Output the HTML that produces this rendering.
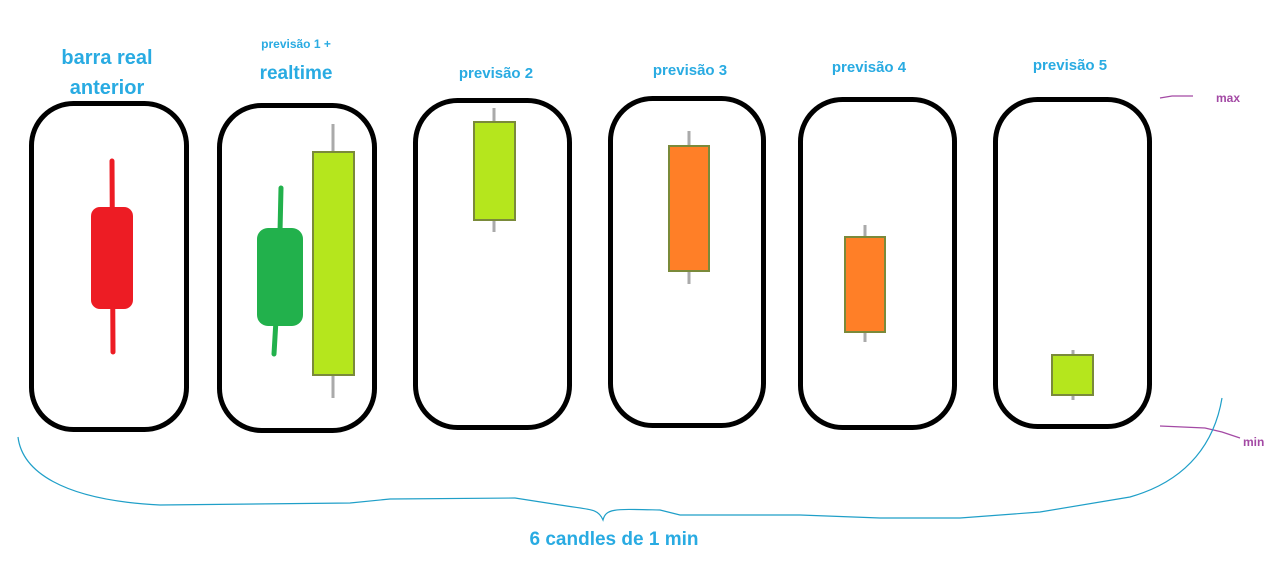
<!DOCTYPE html>
<html><head><meta charset="utf-8"><style>
html,body{margin:0;padding:0;background:#fff;width:1274px;height:578px;overflow:hidden}
svg{display:block}
text{font-family:"Liberation Sans","DejaVu Sans",sans-serif;font-weight:bold}
</style></head><body>
<svg width="1274" height="578" viewBox="0 0 1274 578">
<g fill="none" stroke="#000" stroke-width="5">
<rect x="31.5" y="103.5" width="155" height="326" rx="42"/>
<rect x="219.5" y="105.5" width="155" height="325" rx="42"/>
<rect x="415.5" y="100.5" width="154" height="327" rx="42"/>
<rect x="610.5" y="98.5" width="153" height="327" rx="42"/>
<rect x="800.5" y="99.5" width="154" height="328" rx="42"/>
<rect x="995.5" y="99.5" width="154" height="327" rx="42"/>
</g>
<!-- candle 1 -->
<line x1="112" y1="161" x2="113" y2="352" stroke="#ed1c24" stroke-width="5" stroke-linecap="round"/>
<rect x="91" y="207" width="42" height="102" rx="9" fill="#ed1c24"/>
<!-- candle 2 -->
<path d="M281 188 L280 232 M276 320 L274 354" stroke="#22b14c" stroke-width="5" stroke-linecap="round"/>
<rect x="257" y="228" width="46" height="98" rx="11" fill="#22b14c"/>
<g stroke="#aaa" stroke-width="3">
<line x1="333" y1="124" x2="333" y2="398"/>
<line x1="494" y1="108" x2="494" y2="232"/>
<line x1="689" y1="131" x2="689" y2="284"/>
<line x1="865" y1="225" x2="865" y2="342"/>
<line x1="1073" y1="350" x2="1073" y2="400"/>
</g>
<g stroke="#7a8a3a" stroke-width="2">
<rect x="313" y="152" width="41" height="223" fill="#b5e61d"/>
<rect x="474" y="122" width="41" height="98" fill="#b5e61d"/>
<rect x="669" y="146" width="40" height="125" fill="#ff7f27"/>
<rect x="845" y="237" width="40" height="95" fill="#ff7f27"/>
<rect x="1052" y="355" width="41" height="40" fill="#b5e61d"/>
</g>
<g fill="#29abe2" text-anchor="middle">
<text x="107" y="64" font-size="20">barra real</text>
<text x="107" y="94" font-size="20">anterior</text>
<text x="296" y="48" font-size="12">previsão 1 +</text>
<text x="296" y="79" font-size="19">realtime</text>
<text x="496" y="78" font-size="15">previsão 2</text>
<text x="690" y="75" font-size="15">previsão 3</text>
<text x="869" y="72" font-size="15">previsão 4</text>
<text x="1070" y="70" font-size="15">previsão 5</text>
<text x="614" y="545" font-size="19">6 candles de 1 min</text>
</g>
<g fill="#a349a4" font-size="12">
<text x="1216" y="102">max</text>
<text x="1243" y="446">min</text>
</g>
<g fill="none" stroke="#a349a4" stroke-width="1.2">
<path d="M1160 98 L1172 96 L1193 96"/>
<path d="M1160 426 L1205 428 L1222 432 L1240 438"/>
</g>
<path d="M18 437 C22 470 60 500 160 505 L350 503 L390 499 L515 498 L560 505 C590 510 598 508 603 520 C606 508 615 509 660 510 L680 515 L800 515 L880 518 L960 518 L1040 512 L1130 497 C1190 480 1215 440 1222 398" fill="none" stroke="#1f9fc8" stroke-width="1.2"/>
</svg>
</body></html>
